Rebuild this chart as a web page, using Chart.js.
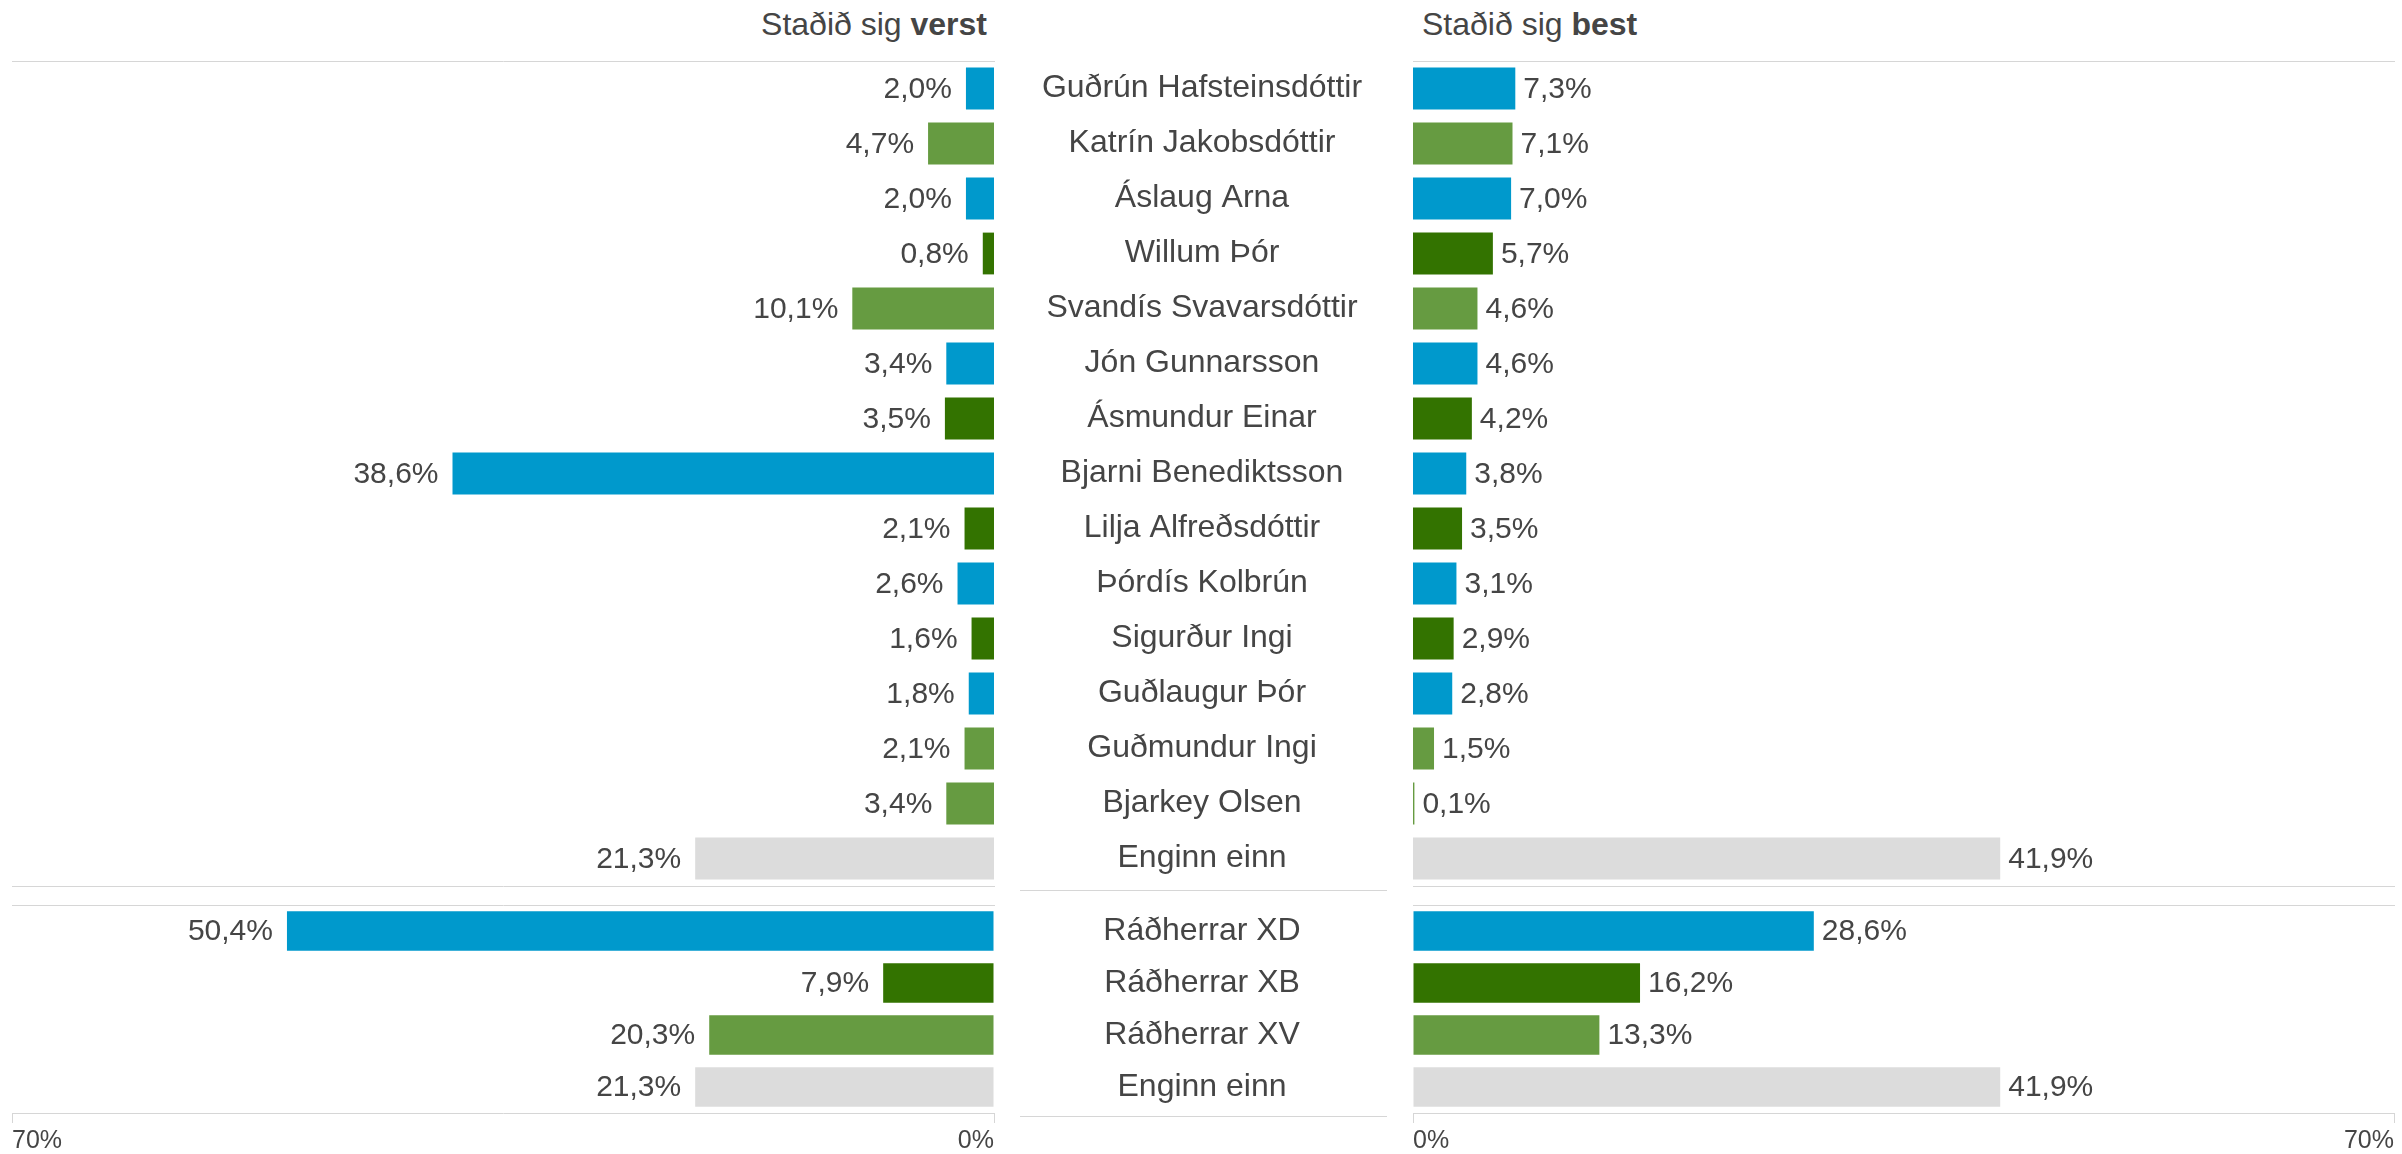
<!DOCTYPE html>
<html lang="is">
<head>
    <meta charset="UTF-8">
    <title>Staðið sig verst / best</title>
    <script src="https://cdn.jsdelivr.net/npm/chart.js"></script>
    <style>
        html, body { margin: 0; padding: 0; background: #fff; }
        body {
            width: 2402px; height: 1154px; position: relative; overflow: hidden;
            font-family: "Liberation Sans", Arial, sans-serif; color: #454545;
        }
        .pane { position: absolute; }
        .head { position: absolute; top: 8px; font-size: 32px; line-height: 32px; white-space: nowrap; }
        #head-worst { right: 1415px; }
        #head-best { left: 1422px; }
    </style>
</head>
<body>
    <!-- Headers -->
    <div class="head" id="head-worst">Staðið sig <b>verst</b></div>
    <div class="head" id="head-best">Staðið sig <b>best</b></div>

    <!-- Chart panes (top ones overlap the bottom ones a little; canvases are transparent) -->
    <div class="pane" style="left:0;top:0;width:1000px;height:910px"><canvas id="worstTop"></canvas></div>
    <div class="pane" style="left:1000px;top:0;width:1402px;height:910px"><canvas id="bestTop"></canvas></div>
    <div class="pane" style="left:0;top:875px;width:1000px;height:279px"><canvas id="worstBottom"></canvas></div>
    <div class="pane" style="left:1000px;top:875px;width:1402px;height:279px"><canvas id="bestBottom"></canvas></div>

    <script>
        // Data
        const ministers = ['Guðrún Hafsteinsdóttir', 'Katrín Jakobsdóttir', 'Áslaug Arna', 'Willum Þór',
            'Svandís Svavarsdóttir', 'Jón Gunnarsson', 'Ásmundur Einar', 'Bjarni Benediktsson',
            'Lilja Alfreðsdóttir', 'Þórdís Kolbrún', 'Sigurður Ingi', 'Guðlaugur Þór',
            'Guðmundur Ingi', 'Bjarkey Olsen', 'Enginn einn'];
        const ministerParty = ['D', 'V', 'D', 'B', 'V', 'D', 'B', 'D', 'B', 'D', 'B', 'D', 'V', 'V', '-'];
        const worstMinister = [2.0, 4.7, 2.0, 0.8, 10.1, 3.4, 3.5, 38.6, 2.1, 2.6, 1.6, 1.8, 2.1, 3.4, 21.3];
        const bestMinister = [7.3, 7.1, 7.0, 5.7, 4.6, 4.6, 4.2, 3.8, 3.5, 3.1, 2.9, 2.8, 1.5, 0.1, 41.9];

        const groups = ['Ráðherrar XD', 'Ráðherrar XB', 'Ráðherrar XV', 'Enginn einn'];
        const groupParty = ['D', 'B', 'V', '-'];
        const worstGroup = [50.4, 7.9, 20.3, 21.3];
        const bestGroup = [28.6, 16.2, 13.3, 41.9];

        const axisTicks = [0, 70];

        // Styles
        const partyColour = { D: '#0099cc', B: '#337300', V: '#669b41', '-': '#dcdcdc' };
        const lineColour = '#d6d6d6';
        const textColour = '#454545';
        const fontFamily = '"Liberation Sans", Arial, sans-serif';
        const nameSize = 32;

        Chart.defaults.font.family = fontFamily;
        Chart.defaults.color = textColour;

        // value labels at the end of each bar, with comma decimals
        const valueLabels = {
            id: 'valueLabels',
            afterDatasetsDraw(chart) {
                const ctx = chart.ctx;
                const reversed = chart.scales.x.options.reverse;
                const values = chart.data.datasets[0].data;
                ctx.save();
                ctx.font = '30px ' + fontFamily;
                ctx.fillStyle = textColour;
                ctx.textBaseline = 'middle';
                ctx.textAlign = reversed ? 'right' : 'left';
                chart.getDatasetMeta(0).data.forEach((bar, i) => {
                    const txt = values[i].toFixed(1).replace('.', ',') + '%';
                    ctx.fillText(txt, bar.x + (reversed ? -14 : 8), bar.y + 1);
                });
                ctx.restore();
            }
        };

        // thin rule under the name column
        const labelRule = {
            id: 'labelRule',
            afterDraw(chart, args, opts) {
                const y = chart.scales.y;
                const ctx = chart.ctx;
                const yy = Math.round(chart.chartArea.bottom + opts.offset) + 0.5;
                ctx.save();
                ctx.strokeStyle = lineColour;
                ctx.lineWidth = 1;
                ctx.beginPath();
                ctx.moveTo(y.left + 20, yy);
                ctx.lineTo(y.right - 26, yy);
                ctx.stroke();
                ctx.restore();
            }
        };

        function widestLabel(labels) {
            const ctx = document.createElement('canvas').getContext('2d');
            ctx.font = nameSize + 'px ' + fontFamily;
            return Math.max(...labels.map(l => ctx.measureText(l).width));
        }

        function makeChart(id, labels, values, parties, side, part) {
            const reversed = side === 'worst';
            const isBottom = part === 'bottom';

            // names sit in the y axis of the right-hand charts, centred in a 413px column
            const yScale = reversed
                ? { type: 'category', display: false, offset: true }
                : {
                    type: 'category', position: 'left', offset: true,
                    ticks: {
                        crossAlign: 'center', autoSkip: false, padding: 0,
                        font: { size: nameSize }, color: textColour
                    },
                    grid: { display: false, drawTicks: true, tickLength: 211 - widestLabel(labels) / 2 },
                    border: { display: false },
                    afterFit: s => { s.width = 413; }
                };

            const xScale = {
                type: 'linear', position: 'bottom', min: 0, max: 70, reverse: reversed,
                afterBuildTicks: s => { s.ticks = axisTicks.map(v => ({ value: v })); },
                ticks: {
                    display: isBottom, align: 'inner', autoSkip: false, maxRotation: 0,
                    padding: 3, font: { size: 25 }, color: textColour,
                    callback: v => v + '%'
                },
                grid: { display: isBottom, drawOnChartArea: false, drawTicks: isBottom, tickLength: 10, color: lineColour },
                border: { display: true, color: lineColour, width: 1 }
            };
            if (isBottom) xScale.afterFit = s => { s.height = 41; };

            const xTop = {
                type: 'linear', position: 'top', min: 0, max: 70, reverse: reversed,
                ticks: { display: false },
                grid: { display: false, drawTicks: false },
                border: { display: true, color: lineColour, width: 1 }
            };

            const plugins = [valueLabels];
            if (!reversed) plugins.push(labelRule);

            return new Chart(document.getElementById(id), {
                type: 'bar',
                data: {
                    labels: labels,
                    datasets: [{
                        data: values,
                        backgroundColor: parties.map(p => partyColour[p]),
                        borderWidth: 0,
                        barPercentage: isBottom ? 0.763 : 0.76,
                        categoryPercentage: 1.0
                    }]
                },
                options: {
                    indexAxis: 'y',
                    responsive: true,
                    maintainAspectRatio: false,
                    animation: false,
                    layout: {
                        padding: {
                            left: reversed ? 12 : 0,
                            right: reversed ? 6 : 8,
                            top: isBottom ? 30 : 61,
                            bottom: isBottom ? 0 : 24
                        }
                    },
                    scales: { x: xScale, xTop: xTop, y: yScale },
                    plugins: {
                        legend: { display: false },
                        tooltip: { enabled: false },
                        labelRule: { offset: isBottom ? 3 : 4 }
                    }
                },
                plugins: plugins
            });
        }

        makeChart('worstTop', ministers, worstMinister, ministerParty, 'worst', 'top');
        makeChart('bestTop', ministers, bestMinister, ministerParty, 'best', 'top');
        makeChart('worstBottom', groups, worstGroup, groupParty, 'worst', 'bottom');
        makeChart('bestBottom', groups, bestGroup, groupParty, 'best', 'bottom');
    </script>
</body>
</html>
